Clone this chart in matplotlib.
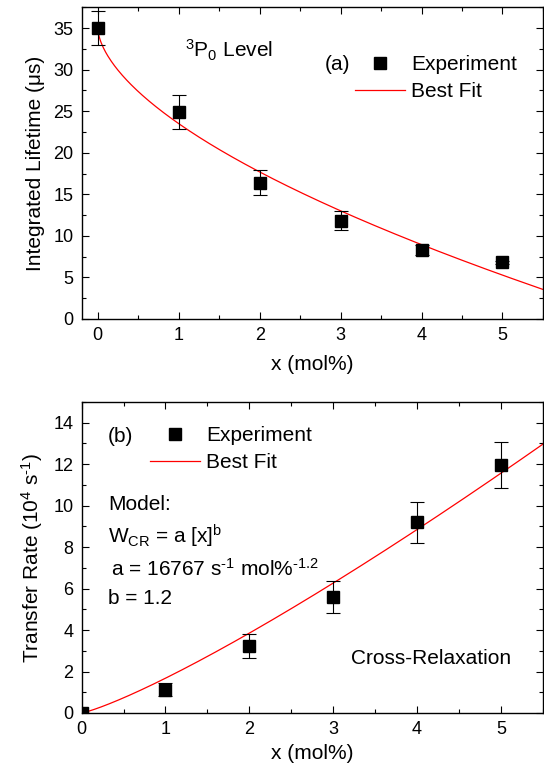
import numpy as np
import matplotlib
matplotlib.use("Agg")
import matplotlib.pyplot as plt
from matplotlib.ticker import MultipleLocator

# (a) integrated lifetime of the 3P0 level
x_a = [0, 1, 2, 3, 4, 5]
tau = [35.0, 24.9, 16.4, 11.8, 8.25, 6.8]
tau_err = [2.0, 2.0, 1.5, 1.15, 0.6, 0.2]
# best-fit curve parameters, tau(x) = tau0 - k * x^p
tau0, k_fit, p_fit = 35.0, 11.5, 0.59

# (b) cross-relaxation transfer rate (10^4 s^-1)
x_b = [0, 1, 2, 3, 4, 5]
rate = [0.0, 1.13, 3.23, 5.61, 9.2, 11.97]
rate_err = [0.0, 0.32, 0.56, 0.78, 1.0, 1.1]
# model W_CR = a [x]^b  (a in 10^4 s^-1 mol%^-b)
a_model, b_model = 1.6767, 1.2

plt.rcParams['font.family'] = 'Liberation Sans'
plt.rcParams['mathtext.fontset'] = 'custom'
plt.rcParams['mathtext.rm'] = 'Liberation Sans'
plt.rcParams['mathtext.it'] = 'Liberation Sans'
plt.rcParams['axes.linewidth'] = 1.0

fig = plt.figure(figsize=(5.44, 7.64), dpi=100)
ax1 = fig.add_axes([0.150, 0.5825, 0.848, 0.408])
ax2 = fig.add_axes([0.150, 0.0668, 0.848, 0.407])


def style(ax):
    ax.tick_params(which='both', direction='in', top=True, right=True,
                   labelsize=13, width=0.8)
    ax.tick_params(which='major', length=5, pad=6)
    ax.tick_params(which='minor', length=3)
    ax.xaxis.set_major_locator(MultipleLocator(1))
    ax.xaxis.set_minor_locator(MultipleLocator(0.5))


def add_legend(ax, anchor):
    ax.legend(loc='upper left', bbox_to_anchor=anchor,
              bbox_transform=fig.transFigure, frameon=False, fontsize=15,
              handlelength=2.4, handletextpad=0.3, borderpad=0,
              borderaxespad=0, labelspacing=0.38, numpoints=1)


# ---- panel (a)
xf = np.linspace(0, 5.5, 400)
ax1.errorbar(x_a, tau, yerr=tau_err, fmt='none', ecolor='black',
             capsize=5, elinewidth=0.8, capthick=0.8, zorder=3)
ax1.plot(x_a, tau, 's', color='black', ms=8.5, label='Experiment', zorder=4)
ax1.plot(xf, tau0 - k_fit * xf ** p_fit, color='red', lw=0.9, label='Best Fit')
ax1.set_xlim(-0.2, 5.5)
ax1.set_ylim(0, 37.5)
ax1.yaxis.set_major_locator(MultipleLocator(5))
ax1.yaxis.set_minor_locator(MultipleLocator(2.5))
style(ax1)
ax1.set_xlabel('x (mol%)', fontsize=15, labelpad=8)
ax1.set_ylabel('Integrated Lifetime (\u03bcs)', fontsize=15, labelpad=6)
ax1.text(0.225, 0.86, r'$^{\rm 3}$P$_{\rm 0}$ Level', transform=ax1.transAxes,
         fontsize=15, va='center')
ax1.text(0.528, 0.816, '(a)', transform=ax1.transAxes, fontsize=15, va='center')
add_legend(ax1, (0.6526, 0.928))

# ---- panel (b)
ax2.errorbar(x_b, rate, yerr=rate_err, fmt='none', ecolor='black',
             capsize=5, elinewidth=0.8, capthick=0.8, zorder=3)
ax2.plot(x_b, rate, 's', color='black', ms=8.5, label='Experiment', zorder=4)
ax2.plot(xf, a_model * xf ** b_model, color='red', lw=0.9, label='Best Fit')
ax2.set_xlim(0, 5.5)
ax2.set_ylim(0, 15)
ax2.yaxis.set_major_locator(MultipleLocator(2))
ax2.yaxis.set_minor_locator(MultipleLocator(1))
style(ax2)
ax2.set_xlabel('x (mol%)', fontsize=15, labelpad=4)
ax2.set_ylabel(r'Transfer Rate (10$^{\rm 4}$ s$^{\rm \text{-}1}$)', fontsize=15,
               labelpad=6)
ax2.text(0.057, 0.888, '(b)', transform=ax2.transAxes, fontsize=15, va='center')
ax2.text(0.057, 0.672, 'Model:', transform=ax2.transAxes, fontsize=15, va='center')
ax2.text(0.057, 0.567, r'W$_{\rm CR}$ = a [x]$^{\rm b}$', transform=ax2.transAxes,
         fontsize=15, va='center')
ax2.text(0.063, 0.463, r'a = 16767 s$^{\rm \text{-}1}$ mol%$^{\rm \text{-}1.2}$',
         transform=ax2.transAxes, fontsize=15, va='center')
ax2.text(0.057, 0.367, 'b = 1.2', transform=ax2.transAxes, fontsize=15, va='center')
ax2.text(0.584, 0.175, 'Cross-Relaxation', transform=ax2.transAxes, fontsize=15,
         va='center')
add_legend(ax2, (0.2757, 0.4424))

fig.savefig('out.png', dpi=100)
